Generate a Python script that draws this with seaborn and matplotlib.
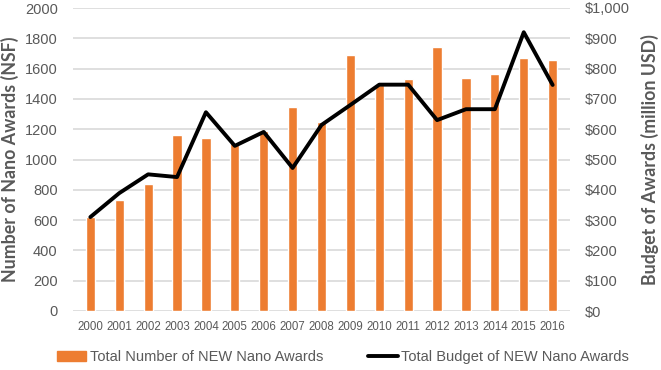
import matplotlib
matplotlib.use("Agg")
import matplotlib.pyplot as plt
import seaborn as sns
import numpy as np
import pandas as pd
from matplotlib.patches import Patch
from matplotlib.lines import Line2D
from matplotlib.ticker import FuncFormatter

years = [str(y) for y in range(2000, 2017)]
awards = [620, 730, 840, 1160, 1140, 1110, 1190, 1345, 1250, 1690, 1495, 1530, 1740, 1535, 1565, 1670, 1660]
budget = [310, 389, 451, 442, 656, 545, 591, 472, 614, 680, 747, 747, 630, 666, 666, 920, 746]

bar_label = "Total Number of NEW Nano Awards"
line_label = "Total Budget of NEW Nano Awards"

orange = "#ED7D31"
gray = "#595959"
grid = "#D9D9D9"

sns.set_style("white")
plt.rcParams['font.family'] = ['Liberation Sans', 'DejaVu Sans']
title_font = ['Lato', 'Liberation Sans', 'DejaVu Sans']

df = pd.DataFrame({"year": years, "awards": awards, "budget": budget})

fig = plt.figure(figsize=(6.61, 3.70), dpi=100)
ax = fig.add_axes([73/661, 1 - 311/370, (570-73)/661, (311-8)/370])

sns.barplot(data=df, x="year", y="awards", color=orange, width=0.32, ax=ax, saturation=1, zorder=2)
ax.set_ylim(0, 2000)
ax.set_yticks(np.arange(0, 2001, 200))
ax.set_xlim(-0.6, len(years) - 0.4)
ax.yaxis.grid(True, color=grid, linewidth=1.2, zorder=0)
ax.set_axisbelow(True)
for s in ax.spines.values():
    s.set_visible(False)
ax.tick_params(axis='both', length=0, colors=gray)
ax.tick_params(axis='y', labelsize=10.5, pad=11)
ax.tick_params(axis='x', labelsize=8.3, pad=7)
ax.set_xlabel("")
ax.set_ylabel("Number of Nano Awards (NSF)", fontsize=12.8, fontweight='bold', color=gray,
              family=title_font, labelpad=4)

ax2 = ax.twinx()
sns.lineplot(x=np.arange(len(years)), y=df["budget"], color="black", linewidth=2.8, ax=ax2, zorder=3)
ax2.set_ylim(0, 1000)
ax2.set_yticks(np.arange(0, 1001, 100))
ax2.yaxis.set_major_formatter(FuncFormatter(lambda v, p: f"${int(v):,}"))
for s in ax2.spines.values():
    s.set_visible(False)
ax2.tick_params(axis='y', length=0, colors=gray, labelsize=10.5, pad=11)
ax2.set_ylabel("Budget of Awards (million USD)", fontsize=12.8, fontweight='bold', color=gray,
               family=title_font, labelpad=8)

handles = [Patch(facecolor=orange, edgecolor=orange), Line2D([0], [0], color='black', linewidth=2.8)]
fig.legend(handles, [bar_label, line_label], loc='center', bbox_to_anchor=(343/661, 1 - 357/370),
           ncol=2, frameon=False, fontsize=10.5, labelcolor=gray, columnspacing=3.1,
           handlelength=2.0, handletextpad=0.25)

fig.savefig("out.png", dpi=100)
